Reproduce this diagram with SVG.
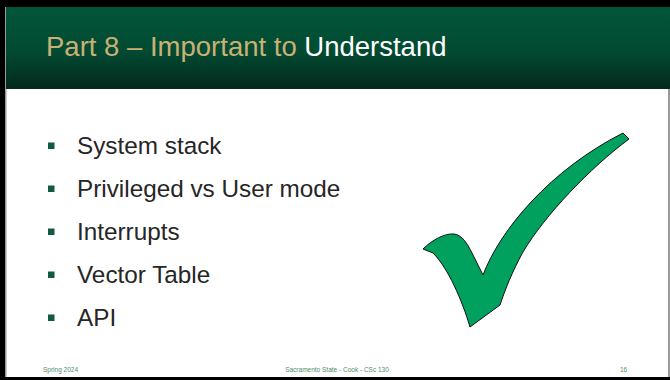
<svg xmlns="http://www.w3.org/2000/svg" width="670" height="380" viewBox="0 0 670 380">
  <defs>
    <linearGradient id="hdr" x1="0" y1="0" x2="0" y2="1">
      <stop offset="0" stop-color="#01573B"/>
      <stop offset="0.55" stop-color="#024A32"/>
      <stop offset="1" stop-color="#03291C"/>
    </linearGradient>
  </defs>
  <style>
    .title { font-family: "Liberation Sans", Arial, sans-serif; font-size: 27.5px; }
    .item { font-family: "Liberation Sans", Arial, sans-serif; font-size: 24.3px; fill: #262626; }
    .bullet { fill: #0E5B3E; }
    .foot { font-family: "Liberation Sans", Arial, sans-serif; font-size: 6.5px; fill: #4E8C6C; }
  </style>
  <!-- frame -->
  <rect x="0" y="0" width="670" height="380" fill="#000"/>
  <rect x="5" y="7" width="665" height="370" fill="#9a9a9a"/>
  <rect x="6.5" y="7" width="661.5" height="370" fill="#fff"/>
  <!-- header -->
  <rect x="6" y="7" width="664" height="82" fill="url(#hdr)"/>
  <text class="title" x="46" y="56"><tspan fill="#CBB075">Part 8 – Important to </tspan><tspan fill="#FFFFFF">Understand</tspan></text>

  <g id="bullets">
    <g id="item1"><rect class="bullet" x="48" y="142.5" width="6.5" height="6.5"/><text class="item" x="77" y="154">System stack</text></g>
    <g id="item2"><rect class="bullet" x="48" y="185.5" width="6.5" height="6.5"/><text class="item" x="77" y="197">Privileged vs User mode</text></g>
    <g id="item3"><rect class="bullet" x="48" y="228.5" width="6.5" height="6.5"/><text class="item" x="77" y="240">Interrupts</text></g>
    <g id="item4"><rect class="bullet" x="48" y="271.5" width="6.5" height="6.5"/><text class="item" x="77" y="283">Vector Table</text></g>
    <g id="item5"><rect class="bullet" x="48" y="314.5" width="6.5" height="6.5"/><text class="item" x="77" y="326">API</text></g>
  </g>

  <g id="checkmark">
    <path d="M623,133 L629,139 C590,168 545,215 523,252 C512,272 505,290 500,305 L470,327 C462,300 448,268 433,253 L423,249 C432,240 445,233 454,234 C462,235 467,243 472,253 L483,275 C500,230 550,170 623,133 Z" fill="#00A05E" stroke="#111" stroke-width="1" stroke-linejoin="round"/>
  </g>

  <g id="footer">
    <text class="foot" x="43" y="372">Spring 2024</text>
    <text class="foot" x="337" y="372" text-anchor="middle">Sacramento State - Cook - CSc 130</text>
    <text class="foot" x="620" y="372">16</text>
  </g>
</svg>
